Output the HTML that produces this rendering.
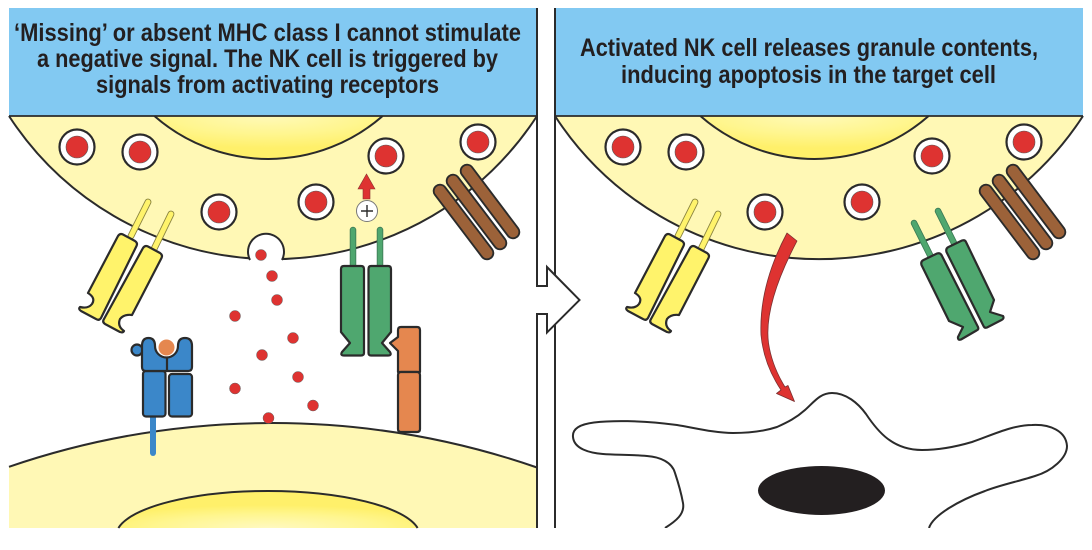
<!DOCTYPE html>
<html lang="en">
<head>
<meta charset="utf-8">
<title>NK cell activation</title>
<style>
html,body{margin:0;padding:0;background:#fff;width:1092px;height:550px;overflow:hidden}
svg{display:block;width:1092px;height:550px;overflow:hidden}
text{font-family:"Liberation Sans",Arial,sans-serif;font-weight:700;font-size:25px;fill:#231f20}
</style>
</head>
<body>
<svg xmlns="http://www.w3.org/2000/svg" xmlns:xlink="http://www.w3.org/1999/xlink" width="1092" height="550" viewBox="0 0 1092 550">
<defs>
  <radialGradient id="nuc" cx="0.5" cy="0" r="0.75">
    <stop offset="0" stop-color="#FFF9B8"/><stop offset="0.55" stop-color="#FFF690"/><stop offset="1" stop-color="#FFF06A"/>
  </radialGradient>
  <radialGradient id="nuc2" cx="0.5" cy="1" r="0.62">
    <stop offset="0" stop-color="#FFF9C0"/><stop offset="0.6" stop-color="#FFF690"/><stop offset="1" stop-color="#FFF06A"/>
  </radialGradient>

  <g id="ves">
    <circle r="17.500" fill="#fff" stroke="#2b2b2b" stroke-width="2.200"/>
    <circle r="11" fill="#DE3331" stroke="#555" stroke-width="0.600"/>
  </g>
  <g id="uppercell">
    <path d="M9,116 A315,315 0 0 0 537,116 Z" fill="#FFF8B5" stroke="none"/>
    <path d="M9,116 A315,315 0 0 0 537,116" fill="none" stroke="#2b2b2b" stroke-width="2"/>
    <path d="M154.400,116 A173,173 0 0 0 382.600,116 Z" fill="url(#nuc)" stroke="none"/>
    <path d="M154.400,116 A173,173 0 0 0 382.600,116" fill="none" stroke="#2b2b2b" stroke-width="2"/>
    <use xlink:href="#ves" x="77" y="147"/>
    <use xlink:href="#ves" x="140" y="152"/>
    <use xlink:href="#ves" x="219" y="212"/>
    <use xlink:href="#ves" x="316" y="202"/>
    <use xlink:href="#ves" x="386" y="156"/>
    <use xlink:href="#ves" x="478" y="142"/>
  </g>
  <g id="brown" fill="none" stroke-linecap="round">
    <g stroke="#2b2b2b" stroke-width="14.500">
      <line x1="440" y1="191" x2="487" y2="253"/>
      <line x1="453" y1="181" x2="500" y2="243"/>
      <line x1="467" y1="171" x2="513" y2="232"/>
    </g>
    <g stroke="#9C6239" stroke-width="10.800">
      <line x1="440" y1="191" x2="487" y2="253"/>
      <line x1="453" y1="181" x2="500" y2="243"/>
      <line x1="467" y1="171" x2="513" y2="232"/>
    </g>
  </g>
  <g id="yellow">
    <g fill="none" stroke-linecap="round">
      <line x1="148" y1="202" x2="131" y2="236" stroke="#8a8440" stroke-width="6.800"/>
      <line x1="171" y1="214" x2="154" y2="249" stroke="#8a8440" stroke-width="6.800"/>
      <line x1="148" y1="202" x2="131" y2="236" stroke="#FFF36B" stroke-width="5"/>
      <line x1="171" y1="214" x2="154" y2="249" stroke="#FFF36B" stroke-width="5"/>
    </g>
    <g fill="#FFF36B" stroke="#2b2b2b" stroke-width="2.200" stroke-linejoin="round">
      <path d="M118,236 Q120,233 123,234.500 L135,241 Q138,243 136.500,246 L101,318 Q99,321 96,319 L81,311 Q78,309 80,307 Q88,309 92,304 Q96,298 88,293 Z"/>
      <path d="M143,248 Q145,245 148,246.500 L160,253 Q163,255 161.500,258 L132,315 Q124,314 120,319 Q117,326 124,331 Q123,333 120,332 L105,324 Q102,322 104,319 Z"/>
    </g>
  </g>
</defs>

<!-- headers -->
<rect x="9" y="8" width="528" height="108" fill="#82C9F2"/>
<rect x="555" y="8" width="528" height="108" fill="#82C9F2"/>

<!-- LEFT PANEL -->
<use xlink:href="#uppercell"/>

<!-- lower cell -->
<path d="M9,466.800 A812,812 0 0 1 537,467.500 L537,528 L9,528 Z" fill="#FFF8B5"/>
<path d="M9,466.800 A812,812 0 0 1 537,467.500" fill="none" stroke="#2b2b2b" stroke-width="2"/>
<path d="M118.400,528 A152,45 0 0 1 417.600,528 Z" fill="url(#nuc2)"/>
<path d="M118.400,528 A152,45 0 0 1 417.600,528" fill="none" stroke="#2b2b2b" stroke-width="2"/>

<!-- exocytosis pocket -->
<path d="M250,260 A18,18 0 1 1 282,260 L282,265 L250,265 Z" fill="#fff" stroke="none"/>
<path d="M250,260 A18,18 0 1 1 282,260" fill="none" stroke="#2b2b2b" stroke-width="2"/>

<use xlink:href="#yellow"/>
<use xlink:href="#brown"/>

<!-- plus and arrow -->
<path d="M363,199 L363,189 L358,189 L366.500,174 L375,189 L370,189 L370,199 Z" fill="#DE3331" stroke="#8a3030" stroke-width="0.600"/>
<circle cx="367" cy="211" r="10.500" fill="#fff" stroke="#777" stroke-width="1"/>
<path d="M361,211 H373 M367,205 V217" stroke="#2b2b2b" stroke-width="1.400" fill="none"/>

<!-- green receptor left -->
<g stroke-linecap="round">
  <line x1="353" y1="230" x2="353" y2="268" stroke="#3c7a55" stroke-width="6.500"/>
  <line x1="380" y1="230" x2="380" y2="268" stroke="#3c7a55" stroke-width="6.500"/>
  <line x1="353" y1="230" x2="353" y2="268" stroke="#4FA76F" stroke-width="4.800"/>
  <line x1="380" y1="230" x2="380" y2="268" stroke="#4FA76F" stroke-width="4.800"/>
</g>
<g fill="#4FA76F" stroke="#2b2b2b" stroke-width="2.200" stroke-linejoin="round">
  <path d="M344,266 L361,266 Q364,266 364,269 L364,353 Q364,355.500 361,355.500 L344,355.500 Q340,355.500 342,352 L350,343 L341,332 L341,269 Q341,266 344,266 Z"/>
  <path d="M371,266 L388,266 Q391,266 391,269 L391,332 L382,343 L390,352 Q392,355.500 388,355.500 L371,355.500 Q368.500,355.500 368.500,353 L368.500,269 Q368.500,266 371,266 Z"/>
</g>

<!-- orange ligand -->
<g fill="#E5874F" stroke="#2b2b2b" stroke-width="2.200" stroke-linejoin="round">
  <path d="M398,372 L398,351 L390,343 L398,337 L398,330 Q398,327 401,327 L417,327 Q420,327 420,330 L420,372 Z"/>
  <path d="M398,375 Q398,372 401,372 L417,372 Q420,372 420,375 L420,429 Q420,432 417,432 L401,432 Q398,432 398,429 Z"/>
</g>

<!-- blue MHC -->
<line x1="153" y1="416" x2="153" y2="453" stroke="#3B87C9" stroke-width="6" stroke-linecap="round"/>
<g fill="#3B87C9" stroke="#2b2b2b" stroke-width="2.200" stroke-linejoin="round">
  <circle cx="137" cy="350" r="5.500"/>
  <rect x="143" y="371" width="22.500" height="45.500" rx="3"/>
  <rect x="169" y="374" width="23" height="42.500" rx="3"/>
  <path d="M146,371 Q142,371 142,367 L142,346 Q142,338 148.500,338 Q155,338 155,346 A11.500,11.500 0 0 0 178,346 Q178,338 185,338 Q192,338 192,346 L192,367 Q192,371 188,371 Z"/>
  <path d="M167,358 L167,371" fill="none"/>
</g>
<circle cx="166.500" cy="347.500" r="8" fill="#E5874F"/>

<!-- granule dots -->
<g fill="#DE3331" stroke="#666" stroke-width="0.500">
  <circle cx="261" cy="255" r="5.500"/>
  <circle cx="272" cy="276" r="5.500"/>
  <circle cx="277" cy="300" r="5.500"/>
  <circle cx="235" cy="316" r="5.500"/>
  <circle cx="293" cy="338" r="5.500"/>
  <circle cx="262" cy="355" r="5.500"/>
  <circle cx="298" cy="377" r="5.500"/>
  <circle cx="235" cy="388.500" r="5.500"/>
  <circle cx="313" cy="405.500" r="5.500"/>
  <circle cx="268.500" cy="418" r="5.500"/>
</g>

<!-- RIGHT PANEL -->
<use xlink:href="#uppercell" x="546"/>
<use xlink:href="#yellow" x="547"/>
<use xlink:href="#brown" x="546"/>

<!-- green receptor right -->
<g stroke-linecap="round">
  <line x1="914" y1="223" x2="931" y2="257" stroke="#3c7a55" stroke-width="6.500"/>
  <line x1="938" y1="211" x2="955" y2="245" stroke="#3c7a55" stroke-width="6.500"/>
  <line x1="914" y1="223" x2="931" y2="257" stroke="#4FA76F" stroke-width="4.800"/>
  <line x1="938" y1="211" x2="955" y2="245" stroke="#4FA76F" stroke-width="4.800"/>
</g>
<g fill="#4FA76F" stroke="#2b2b2b" stroke-width="2.200" stroke-linejoin="round">
  <path d="M923.500,260 L937,253.500 Q940,252.500 941.500,255 L978,327 Q979,329.500 976.500,330.500 L961,339.500 Q957.500,340.500 958,337 L963,327 L949,321 L921.500,265 Q920.500,261.500 923.500,260 Z"/>
  <path d="M948.500,247 L962,240.500 Q965,239.500 966,242 L994,300 L990,312 L1003,316 Q1004.500,318.500 1001.500,320 L987,327.500 Q984.500,328.500 983.500,326 L946.500,252 Q945.500,248.500 948.500,247 Z"/>
</g>

<!-- red curved arrow -->
<path d="M787,233 L797,241 C776,281 765,316 768.500,343 C771,360 777,374 785,387 L788,385.500 L794.500,401.500 L776.500,393.500 L781,390 C771,375 763,356 761,335 C759.500,300 770,265 787,233 Z" fill="#DE3331" stroke="#7a3030" stroke-width="0.800" stroke-linejoin="round"/>

<!-- target cell -->
<path d="M665,528 C676,521 685,514 683,503 C681,492 678,482 675,473 C672,462 660,457 647,456 C630,454.500 615,455 603,454 C590,453 574,449 573,437 C572,428 582,424 594,422.500 C610,420.500 640,420 677,425 C695,428 715,433 733,433 C750,433 765,431 777,427 C788,422 796,418 805,410 C814,402 820,393 832,393 C846,393 858,403 866,414 C878,432 893,450 922,450 C940,450 955,447 972,442 C990,436 1012,425 1032,425 C1050,424 1066,431 1067,446 C1067,458 1052,471 1035,476 C1020,481 1000,485 985,491 C960,500 933,515 929,528" fill="#fff" stroke="#2b2b2b" stroke-width="2"/>
<rect x="640" y="528" width="320" height="4" fill="#fff"/>
<ellipse cx="821.500" cy="490.500" rx="63.500" ry="24.500" fill="#231f20"/>

<!-- centre divider + arrow -->
<path d="M537,8 L537,286 L547,286 L547,267 L579.500,300 L547,332.500 L547,314 L537,314 L537,528" fill="none" stroke="#2b2b2b" stroke-width="2"/>
<path d="M555,8 L555,275 M555,325 L555,528" fill="none" stroke="#2b2b2b" stroke-width="2"/>
<path d="M538,287 L548,287 L548,270 L578,300 L548,330 L548,313 L538,313 Z" fill="#fff"/>

<!-- header rules -->
<line x1="9" y1="116" x2="537" y2="116" stroke="#2b2b2b" stroke-width="1.800"/>
<line x1="555" y1="116" x2="1083" y2="116" stroke="#2b2b2b" stroke-width="1.800"/>

<!-- header text -->
<text x="14" y="41" textLength="507" lengthAdjust="spacingAndGlyphs">‘Missing’ or absent MHC class I cannot stimulate</text>
<text x="37" y="67" textLength="461" lengthAdjust="spacingAndGlyphs">a negative signal. The NK cell is triggered by</text>
<text x="96" y="93" textLength="343" lengthAdjust="spacingAndGlyphs">signals from activating receptors</text>
<text x="580" y="56" textLength="458" lengthAdjust="spacingAndGlyphs">Activated NK cell releases granule contents,</text>
<text x="621" y="83" textLength="375" lengthAdjust="spacingAndGlyphs">inducing apoptosis in the target cell</text>
</svg>
</body>
</html>
